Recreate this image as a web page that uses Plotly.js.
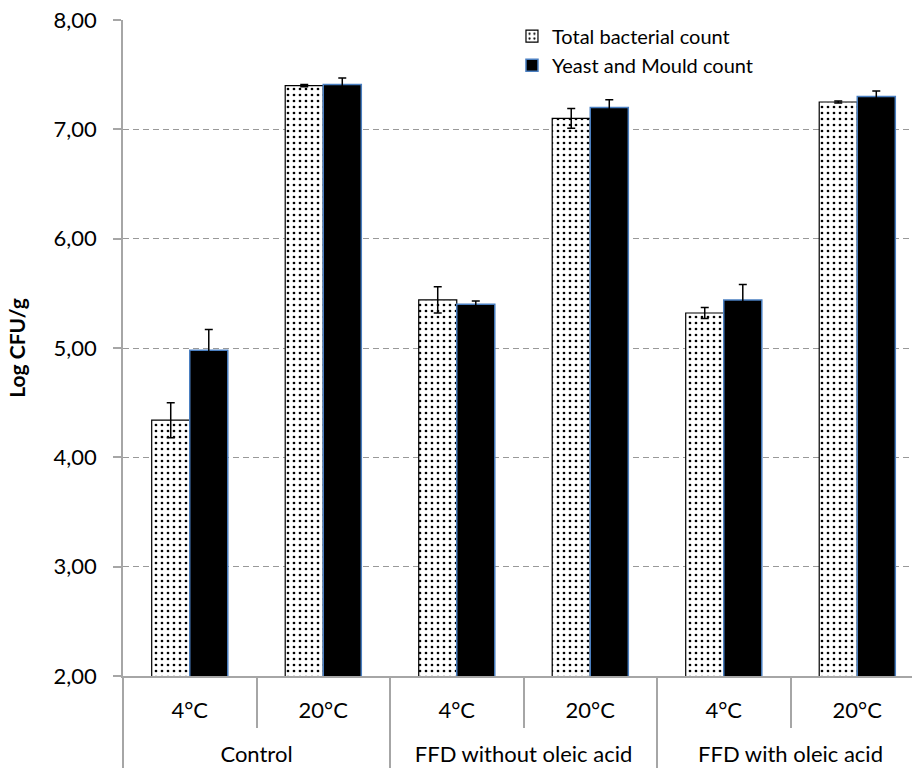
<!DOCTYPE html>
<html>
<head>
<meta charset="utf-8">
<script src="https://cdn.plot.ly/plotly-3.0.1.min.js"></script>
<style>html,body{margin:0;padding:0;background:#fff;}#chart{width:912px;height:776px;}</style>
</head>
<body>
<div id="chart"></div>
<script>
const groups = ["Control", "Control", "FFD without oleic acid", "FFD without oleic acid", "FFD with oleic acid", "FFD with oleic acid"];
const temps = ["4°C", "20°C", "4°C", "20°C", "4°C", "20°C"];
const totalBacterial = [4.34, 7.40, 5.44, 7.10, 5.32, 7.25];
const totalBacterialErr = [0.16, 0.01, 0.12, 0.09, 0.05, 0.01];
const yeastMould = [4.98, 7.41, 5.40, 7.20, 5.44, 7.30];
const yeastMouldErr = [0.19, 0.06, 0.03, 0.07, 0.14, 0.05];

const font = "Lato, 'Open Sans', sans-serif";
const groupLabels = groups.map(g => "<br>" + g);

const traces = [
  {
    type: "bar",
    name: "Total bacterial count",
    x: [groupLabels, temps],
    y: totalBacterial,
    error_y: {type: "data", array: totalBacterialErr, visible: true, color: "#000", thickness: 1.5, width: 4},
    marker: {
      color: "#ffffff",
      line: {color: "#000000", width: 1.2},
      pattern: {shape: ".", fgcolor: "#000000", bgcolor: "#ffffff", size: 6, solidity: 0.16}
    }
  },
  {
    type: "bar",
    name: "Yeast and Mould count",
    x: [groupLabels, temps],
    y: yeastMould,
    error_y: {type: "data", array: yeastMouldErr, visible: true, color: "#000", thickness: 1.5, width: 4},
    marker: {color: "#000000", line: {color: "#4a7fc1", width: 1.5}}
  }
];

const layout = {
  width: 912,
  height: 776,
  margin: {l: 123, r: 0, t: 20, b: 100},
  paper_bgcolor: "#ffffff",
  plot_bgcolor: "#ffffff",
  separators: ",.",
  font: {family: font, size: 22, color: "#000"},
  barmode: "group",
  bargap: 0.43,
  bargroupgap: 0,
  showlegend: true,
  legend: {
    x: 0.493, y: 1.005, xanchor: "left", yanchor: "top",
    bgcolor: "rgba(255,255,255,0)",
    font: {family: font, size: 20, color: "#000"},
    itemwidth: 30, tracegroupgap: 0
  },
  xaxis: {
    type: "multicategory",
    range: [-0.5, 5.41],
    showline: true, linecolor: "#a6a6a6", linewidth: 1.5,
    ticks: "outside", tickson: "boundaries", ticklen: 50, tickcolor: "#a6a6a6", tickwidth: 1.5,
    ticklabelstandoff: 14,
    showdividers: true, dividercolor: "#a6a6a6", dividerwidth: 1.5,
    showgrid: false,
    tickfont: {family: font, size: 22, color: "#000"}
  },
  yaxis: {
    range: [2, 8],
    tickvals: [2, 3, 4, 5, 6, 7, 8],
    tickformat: ".2f",
    showline: true, linecolor: "#a6a6a6", linewidth: 1.5,
    ticks: "outside", ticklen: 8, tickcolor: "#a6a6a6", tickwidth: 1.5,
    ticklabelstandoff: 12,
    showgrid: true, gridcolor: "#999999", griddash: "6px,4px", gridwidth: 1.2,
    zeroline: false,
    tickfont: {family: font, size: 22, color: "#000"},
    title: {text: "<b>Log CFU/g</b>", font: {family: font, size: 21, color: "#000"}, standoff: 22}
  }
};

Plotly.newPlot("chart", traces, layout, {displayModeBar: false, responsive: false});
</script>
</body>
</html>
